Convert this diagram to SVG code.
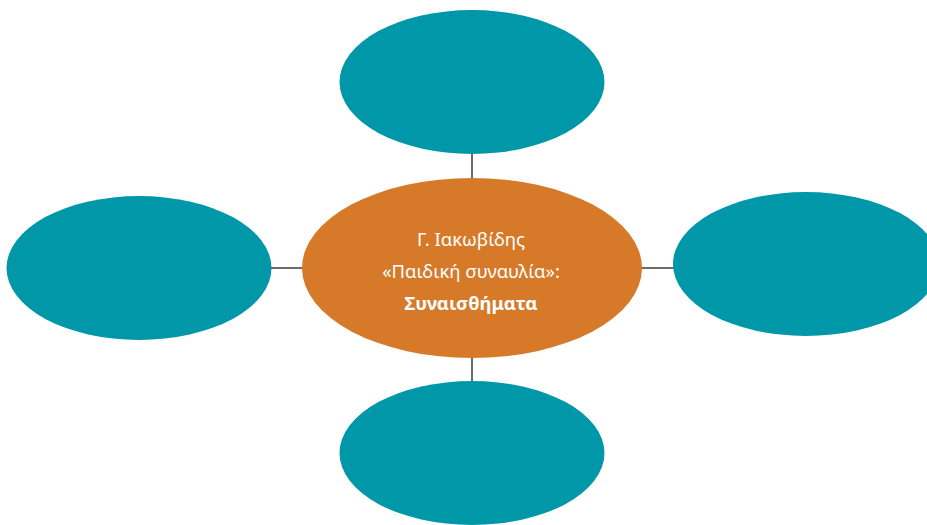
<svg xmlns="http://www.w3.org/2000/svg" width="927" height="525" viewBox="0 0 927 525">
  <style>
    .leaf { fill: #0097a8; }
    .hub { fill: #d67a2a; }
    .link { stroke: #6b6b6b; stroke-width: 2; fill: none; }
    .label { font-family: "Noto Sans", "Open Sans", sans-serif; font-size: 18.5px; fill: #ffffff; text-anchor: middle; }
    .bold { font-weight: bold; }
  </style>
  <rect width="927" height="525" fill="#ffffff"/>
  <g id="connectors">
    <line class="link" x1="271" y1="268" x2="303" y2="268"/>
    <line class="link" x1="641" y1="268" x2="674" y2="268"/>
    <line class="link" x1="472" y1="153" x2="472" y2="179"/>
    <line class="link" x1="472" y1="357" x2="472" y2="382"/>
  </g>
  <g id="node-top">
    <ellipse class="leaf" cx="472" cy="82" rx="132.5" ry="72"/>
  </g>
  <g id="node-left">
    <ellipse class="leaf" cx="139" cy="268" rx="132.5" ry="72"/>
  </g>
  <g id="node-right">
    <ellipse class="leaf" cx="806" cy="264" rx="133" ry="72"/>
  </g>
  <g id="node-bottom">
    <ellipse class="leaf" cx="472" cy="453" rx="132.5" ry="72"/>
  </g>
  <g id="node-center">
    <ellipse class="hub" cx="472" cy="268" rx="170" ry="90"/>
    <text class="label" x="471" y="246">Γ. Ιακωβίδης</text>
    <text class="label" x="471" y="278">«Παιδική συναυλία»:</text>
    <text class="label bold" x="471" y="310">Συναισθήματα</text>
  </g>
</svg>
